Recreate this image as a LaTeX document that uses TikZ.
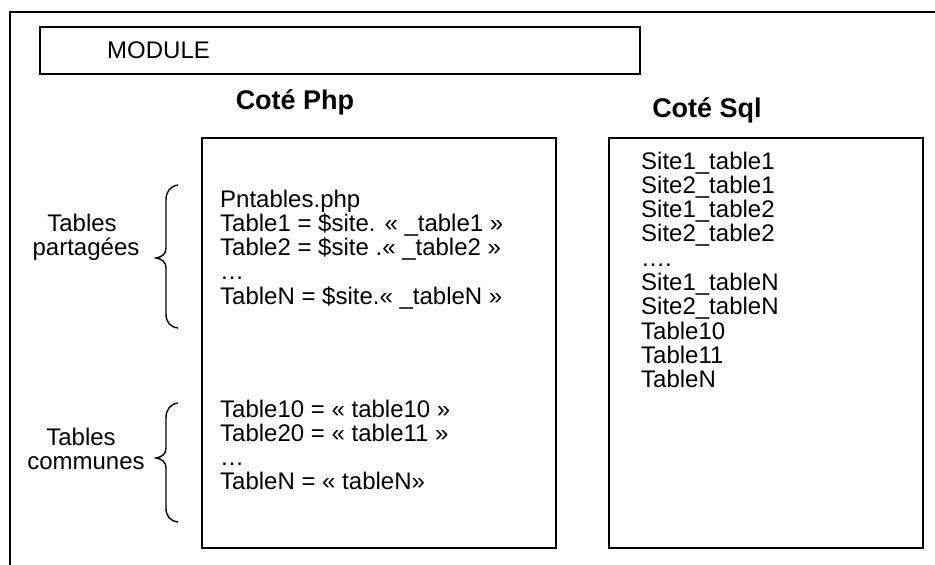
\documentclass[tikz,border=0pt]{standalone}
\usepackage{fontspec}
\setmainfont{Liberation Sans}
\begin{document}
\begin{tikzpicture}[x=1pt,y=-1pt,
  frame/.style={line width=2.2pt},
  box/.style={draw, line width=2.2pt, inner sep=0pt, anchor=north west},
  txt/.style={anchor=base west, inner sep=0pt, font=\fontsize{24}{24.3}\selectfont},
  head/.style={anchor=base, inner sep=0pt, font=\fontsize{27}{28}\selectfont\bfseries},
  lbl/.style={anchor=base, inner sep=0pt, font=\fontsize{24}{24.3}\selectfont},
  bracepath/.style={line width=1.4pt}]
\useasboundingbox (0,0) rectangle (935,565);
% outer frame (open to right and bottom)
\coordinate (fbl) at (10,570);
\coordinate (ftl) at (10,12);
\coordinate (ftr) at (940,12);
\draw[frame] (fbl) -- (ftl) -- (ftr);
% module box
\node[box, minimum width=600pt, minimum height=47pt] (module) at (39,26) {};
\node[txt] (moduletxt) at (107,58) {MODULE};
% headings
\node[head] (hphp) at (295,109) {Coté Php};
\node[head] (hsql) at (707,117) {Coté Sql};
% boxes
\node[box, minimum width=354pt, minimum height=410pt] (php) at (201,137) {};
\node[box, minimum width=314pt, minimum height=410pt] (sql) at (608,137) {};
% php text
\node[txt] (p1) at (220,207) {Pntables.php};
\node[txt] (p2) at (220,231.3) {Table1 = \$site. « \_table1 »};
\node[txt] (p3) at (220,255.6) {Table2 = \$site .« \_table2 »};
\node[txt] (p4) at (220,279.9) {…};
\node[txt] (p5) at (220,304.2) {TableN = \$site.« \_tableN »};
\node[txt] (q1) at (220,417) {Table10 = « table10 »};
\node[txt] (q2) at (220,441.3) {Table20 = « table11 »};
\node[txt] (q3) at (220,465.6) {…};
\node[txt] (q4) at (220,489.9) {TableN = « tableN»};
% sql text
\foreach \t [count=\i from 0] in {Site1\_table1,Site2\_table1,Site1\_table2,Site2\_table2,….,Site1\_tableN,Site2\_tableN,Table10,Table11,TableN}
  \node[txt] (s\i) at (641,169+24.3*\i) {\t};
% labels
\node[lbl] (lshared1) at (82,231.3) {Tables};
\node[lbl] (lshared2) at (86,255.6) {partagées};
\node[lbl] (lcommon1) at (81,445) {Tables};
\node[lbl] (lcommon2) at (86,469.3) {communes};
% braces
\draw[bracepath] (178,185) .. controls (170,186) and (166,192) .. (166,200) -- (166,248)
  .. controls (166,254) and (162,257) .. (156,258) .. controls (162,259) and (166,262) .. (166,268)
  -- (166,314) .. controls (166,322) and (170,327) .. (178,328);
\draw[bracepath] (178,403) .. controls (170,404) and (166,410) .. (166,418) -- (166,448)
  .. controls (166,454) and (162,457) .. (156,458) .. controls (162,459) and (166,462) .. (166,468)
  -- (166,508) .. controls (166,516) and (170,521) .. (178,522);
\end{tikzpicture}
\end{document}
